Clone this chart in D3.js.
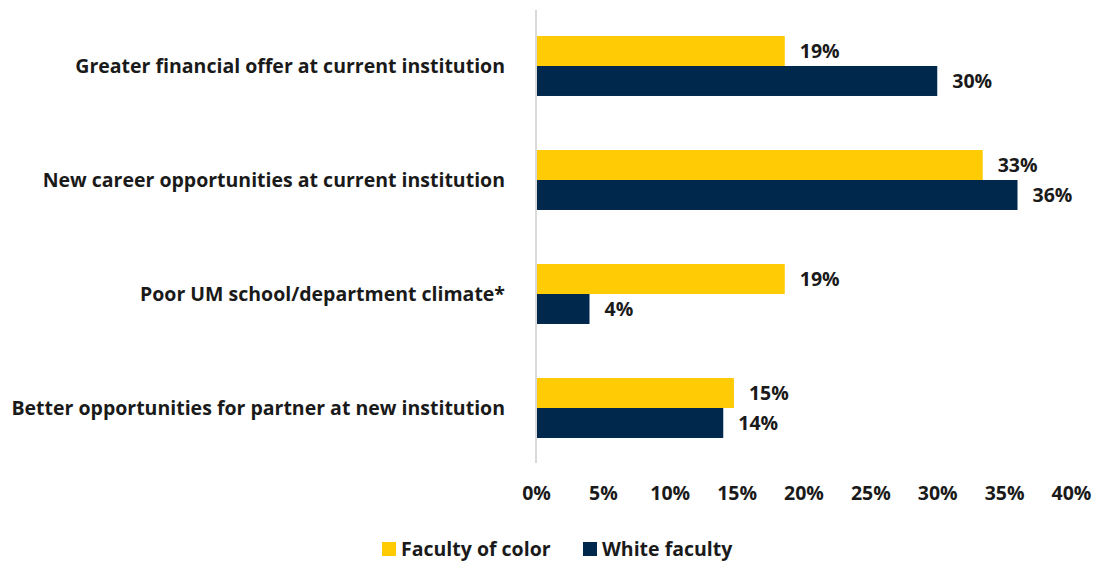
<!DOCTYPE html>
<html>
<head>
<meta charset="utf-8">
<script src="https://cdn.jsdelivr.net/npm/d3@7"></script>
<style>
  body { margin: 0; background: #fff; }
  text { font-family: "Open Sans", Lato, sans-serif; font-weight: bold; fill: #1a1a1a; }
</style>
</head>
<body>
<div id="chart"></div>
<script>
// Data
const categories = [
  'Greater financial offer at current institution',
  'New career opportunities at current institution',
  'Poor UM school/department climate*',
  'Better opportunities for partner at new institution'
];
const seriesNames = ['Faculty of color', 'White faculty'];
const facultyOfColor = [18.6, 33.4, 18.6, 14.8];
const whiteFaculty = [30.0, 36.0, 4.0, 14.0];
const xTicks = [0, 5, 10, 15, 20, 25, 30, 35, 40];
const colors = ['#FFCB05', '#00274C'];

const width = 1094, height = 561;
const fontSize = '19.5px';

const svg = d3.select('#chart').append('svg')
  .attr('width', width)
  .attr('height', height);

// Scales
const x = d3.scaleLinear().domain([0, 40]).range([536, 1071]);
const y = d3.scaleBand().domain(categories).range([9, 465])
  .paddingInner(0.474).paddingOuter(0.237);
const ySub = d3.scaleBand().domain(seriesNames).range([0, y.bandwidth()]);

const rows = categories.map((c, i) => ({
  category: c,
  values: [
    { series: seriesNames[0], value: facultyOfColor[i] },
    { series: seriesNames[1], value: whiteFaculty[i] }
  ]
}));

// Bars
const groups = svg.selectAll('g.group')
  .data(rows)
  .enter().append('g')
  .attr('class', 'group')
  .attr('transform', d => `translate(0,${y(d.category)})`);

groups.selectAll('rect')
  .data(d => d.values)
  .enter().append('rect')
  .attr('x', x(0))
  .attr('y', d => ySub(d.series))
  .attr('width', d => x(d.value) - x(0))
  .attr('height', ySub.bandwidth())
  .attr('fill', (d, i) => colors[i]);

// Value labels
groups.selectAll('text.val')
  .data(d => d.values)
  .enter().append('text')
  .attr('class', 'val')
  .attr('x', d => x(d.value) + 15)
  .attr('y', d => ySub(d.series) + ySub.bandwidth() / 2)
  .attr('dy', '0.35em')
  .style('font-size', fontSize)
  .text(d => Math.round(d.value) + '%');

// Vertical axis line
svg.append('line')
  .attr('x1', x(0)).attr('x2', x(0))
  .attr('y1', 10).attr('y2', 463)
  .attr('stroke', '#d9d9d9')
  .attr('stroke-width', 2);

// Category labels
svg.selectAll('text.cat')
  .data(categories)
  .enter().append('text')
  .attr('class', 'cat')
  .attr('x', 505)
  .attr('y', d => y(d) + y.bandwidth() / 2)
  .attr('dy', '0.35em')
  .attr('text-anchor', 'end')
  .style('font-size', fontSize)
  .text(d => d);

// X axis tick labels
const xAxis = d3.axisBottom(x)
  .tickValues(xTicks)
  .tickFormat(d => d + '%')
  .tickSize(0)
  .tickPadding(0);

const gx = svg.append('g')
  .attr('transform', 'translate(0,486)')
  .call(xAxis);
gx.select('.domain').remove();
gx.selectAll('text')
  .style('font-size', fontSize)
  .style('font-family', '"Open Sans", Lato, sans-serif')
  .style('font-weight', 'bold')
  .attr('fill', '#1a1a1a');

// Legend
const legendX = [382, 583];
const legend = svg.selectAll('g.legend')
  .data(seriesNames)
  .enter().append('g')
  .attr('class', 'legend')
  .attr('transform', (d, i) => `translate(${legendX[i]},542)`);

legend.append('rect')
  .attr('width', 14).attr('height', 14)
  .attr('fill', (d, i) => colors[i]);

legend.append('text')
  .attr('x', 19)
  .attr('y', 7)
  .attr('dy', '0.35em')
  .style('font-size', fontSize)
  .text(d => d);
</script>
</body>
</html>
